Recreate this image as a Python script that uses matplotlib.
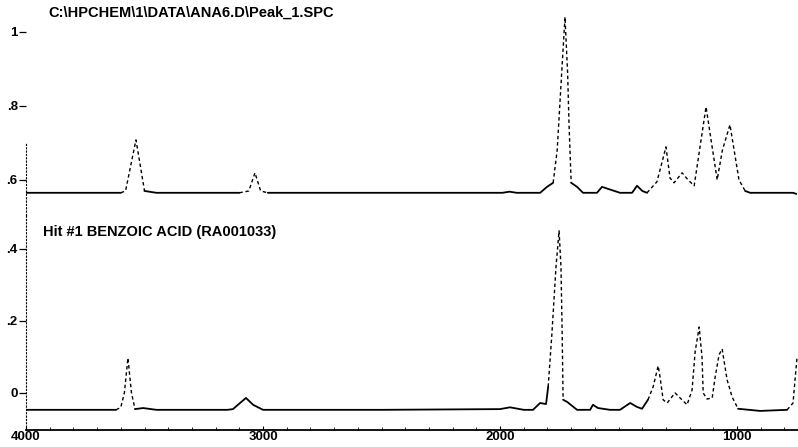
import numpy as np
import matplotlib
matplotlib.use("Agg")
import matplotlib.pyplot as plt

plt.rcParams["font.family"] = ["Liberation Sans", "DejaVu Sans"]

# file / library-hit titles
sample_title = "C:\\HPCHEM\\1\\DATA\\ANA6.D\\Peak_1.SPC"
hit_title = "Hit #1 BENZOIC ACID (RA001033)"

# sample spectrum (top trace): wavenumber cm-1 and absorbance
top_wn = [4004, 3600, 3580, 3536, 3500, 3450, 3100, 3060, 3034, 3010, 2980,
          2500, 1990, 1960, 1930, 1831, 1802, 1776, 1759, 1740, 1726, 1715,
          1709, 1700, 1675, 1650, 1591, 1570, 1494, 1443, 1422, 1400, 1380,
          1338, 1300, 1283, 1266, 1232, 1207, 1181, 1131, 1084, 1062, 1030,
          992, 966, 945, 764, 750]
top_ab = [0.565, 0.565, 0.57, 0.708, 0.57, 0.565, 0.565, 0.57, 0.619, 0.57,
          0.565, 0.565, 0.565, 0.568, 0.565, 0.565, 0.581, 0.592, 0.68, 0.889,
          1.04, 0.889, 0.75, 0.592, 0.581, 0.565, 0.565, 0.581, 0.565, 0.565,
          0.584, 0.57, 0.565, 0.595, 0.689, 0.605, 0.592, 0.619, 0.6, 0.584,
          0.797, 0.6, 0.68, 0.749, 0.6, 0.57, 0.565, 0.565, 0.562]

# library reference spectrum (bottom trace)
ref_wn = [4004, 3620, 3600, 3585, 3570, 3555, 3540, 3506, 3450, 3150, 3127,
          3097, 3072, 3042, 3000, 2500, 2000, 1958, 1900, 1861, 1831, 1806,
          1797, 1781, 1764, 1751, 1743, 1738, 1734, 1717, 1675, 1620, 1608,
          1587, 1536, 1494, 1451, 1422, 1401, 1376, 1354, 1333, 1325, 1312,
          1295, 1262, 1211, 1190, 1177, 1160, 1148, 1143, 1127, 1105, 1093,
          1076, 1063, 1042, 1021, 996, 903, 789, 764, 747]
ref_ab = [-0.047, -0.047, -0.04, 0.0, 0.097, 0.0, -0.045, -0.042, -0.047,
          -0.047, -0.045, -0.028, -0.014, -0.033, -0.047, -0.047, -0.045,
          -0.04, -0.047, -0.047, -0.028, -0.031, 0.017, 0.167, 0.35, 0.45,
          0.35, 0.167, -0.019, -0.025, -0.047, -0.047, -0.033, -0.042, -0.047,
          -0.047, -0.028, -0.039, -0.044, -0.019, 0.017, 0.075, 0.044, -0.019,
          -0.028, 0.0, -0.033, 0.008, 0.114, 0.183, 0.1, 0.0, -0.017, -0.014,
          0.042, 0.106, 0.122, 0.036, -0.011, -0.044, -0.05, -0.047, -0.028,
          0.1]

# stretches where the printed trace is faint/broken on the scan
top_faint = [(3590, 3505), (3075, 2990), (1765, 1705), (1345, 970)]
ref_faint = [(3600, 3545), (1795, 1735), (1360, 1020), (770, 740)]

x_ticks = [4000, 3000, 2000, 1000]
top_yticks = [1.0, 0.8, 0.6]
top_ylabels = ["1", ".8", ".6"]
bot_yticks = [0.4, 0.2, 0.0]
bot_ylabels = [".4", ".2", "0"]


def draw_trace(ax, wn, ab, faint):
    wn = np.asarray(wn, float)
    ab = np.asarray(ab, float)
    weak = np.zeros(len(wn), bool)
    for hi, lo in faint:
        weak |= (wn <= hi) & (wn >= lo)
    solid = np.where(weak, np.nan, ab)
    # the broken stretches take one neighbour each side so they join the solid line
    near = weak | np.r_[weak[1:], False] | np.r_[False, weak[:-1]]
    broken = np.where(near, ab, np.nan)
    ax.plot(wn, solid, color="black", lw=1.3, solid_capstyle="round")
    ax.plot(wn, broken, color="black", lw=1.0, ls=(0, (2.5, 2)))


W, H = 798, 447
fig = plt.figure(figsize=(W / 100, H / 100), dpi=100)

left = 26 / W
width = 1 - left
ax_top = fig.add_axes([left, 1 - 215 / H, width, 215 / H])
ax_bot = fig.add_axes([left, 1 - 430 / H, width, 215 / H])

tick_font = dict(fontsize=9.5, fontweight="bold")

for ax in (ax_top, ax_bot):
    ax.set_xlim(4000, 743)
    for s in ("top", "right"):
        ax.spines[s].set_visible(False)
    ax.spines["left"].set_linestyle((0, (1, 2)))
    ax.spines["left"].set_linewidth(0.8)
    ax.tick_params(axis="y", direction="out", length=5, width=0.9, pad=1)
    ax.patch.set_visible(False)

# top panel: sample
draw_trace(ax_top, top_wn, top_ab, top_faint)
ax_top.set_ylim(0.505, 1.086)
ax_top.spines["bottom"].set_visible(False)
ax_top.spines["left"].set_bounds(0.505, 0.70)
ax_top.set_xticks([])
ax_top.set_yticks(top_yticks)
ax_top.set_yticklabels(top_ylabels, **tick_font)

# bottom panel: library hit
draw_trace(ax_bot, ref_wn, ref_ab, ref_faint)
ax_bot.set_ylim(-0.103, 0.494)
ax_bot.set_yticks(bot_yticks)
ax_bot.set_yticklabels(bot_ylabels, **tick_font)
ax_bot.spines["bottom"].set_linewidth(1.3)
ax_bot.set_xticks(x_ticks)
ax_bot.set_xticklabels([str(t) for t in x_ticks], **tick_font)
ax_bot.set_xticks(np.arange(3900, 743, -100), minor=True)
ax_bot.tick_params(axis="x", which="major", direction="in", length=3, pad=1)
ax_bot.tick_params(axis="x", which="minor", direction="in", length=2)

fig.text(48 / W, 1 - 13 / H, sample_title, fontsize=10.5, fontweight="bold",
         ha="left", va="center")
fig.text(43 / W, 1 - 232 / H, hit_title, fontsize=10.5, fontweight="bold",
         ha="left", va="center")

fig.savefig("out.png", dpi=100)
